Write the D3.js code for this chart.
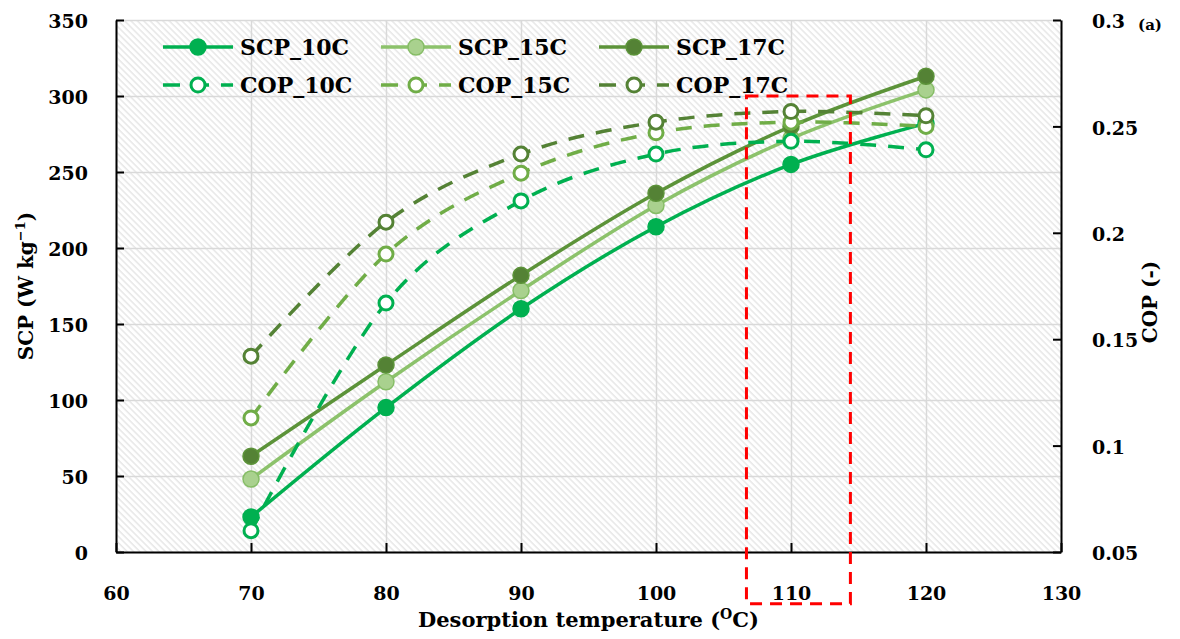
<!DOCTYPE html>
<html>
<head>
<meta charset="utf-8">
<script src="https://cdn.jsdelivr.net/npm/d3@7"></script>
<style>
    body { margin: 0; background: #fff; }
    text { font-family: "DejaVu Serif", serif; font-weight: bold; fill: #000; }
</style>
</head>
<body>
<div id="chart"></div>
<script>
// values
const temps = [70, 80, 90, 100, 110, 120];
const scp10 = [23, 95, 160, 214, 255, 282];
const scp15 = [48, 112, 172, 228, 272, 304];
const scp17 = [63, 123, 182, 236, 280, 313];
const cop10 = [0.060, 0.167, 0.215, 0.237, 0.243, 0.239];
const cop15 = [0.113, 0.190, 0.228, 0.247, 0.252, 0.250];
const cop17 = [0.142, 0.205, 0.237, 0.252, 0.257, 0.255];

const xTicks = [60, 70, 80, 90, 100, 110, 120, 130];
const scpTicks = [0, 50, 100, 150, 200, 250, 300, 350];
const copTicks = [0.05, 0.1, 0.15, 0.2, 0.25, 0.3];

// red dashed highlight box: [x0, x1] in degC, [top, bottom] in SCP units
const boxX = [106.7, 114.4];
const boxY = [300, -34];

class DesorptionChart {

    constructor(parentElement) {
        this.parentElement = parentElement;
        this.initVis();
    }

    initVis() {
        let vis = this;
        vis.margin = { top: 20, right: 119, bottom: 87, left: 116 };
        vis.width = 1180 - vis.margin.left - vis.margin.right;
        vis.height = 639 - vis.margin.top - vis.margin.bottom;

        vis.root = d3.select("#" + vis.parentElement)
            .append("svg")
            .attr("width", 1180)
            .attr("height", 639);

        // hatched plot background
        let defs = vis.root.append("defs");
        let pat = defs.append("pattern")
            .attr("id", "hatch")
            .attr("patternUnits", "userSpaceOnUse")
            .attr("width", 4.5)
            .attr("height", 4.5)
            .attr("patternTransform", "rotate(-45)");
        pat.append("rect").attr("width", 4.5).attr("height", 4.5).attr("fill", "#fff");
        pat.append("line")
            .attr("x1", 1).attr("y1", 0).attr("x2", 1).attr("y2", 4.5)
            .attr("stroke", "#dedede").attr("stroke-width", 1.1);

        vis.svg = vis.root.append("g")
            .attr("transform", "translate(" + vis.margin.left + "," + vis.margin.top + ")");

        vis.x = d3.scaleLinear().domain([60, 130]).range([0, vis.width]);
        vis.yL = d3.scaleLinear().domain([0, 350]).range([vis.height, 0]);
        vis.yR = d3.scaleLinear().domain([0.05, 0.3]).range([vis.height, 0]);

        vis.updateVis();
    }

    updateVis() {
        let vis = this;

        vis.svg.append("rect")
            .attr("width", vis.width)
            .attr("height", vis.height)
            .attr("fill", "url(#hatch)");

        // gridlines
        vis.svg.append("g")
            .attr("transform", "translate(0," + vis.height + ")")
            .call(d3.axisBottom(vis.x).tickValues(xTicks).tickSize(-vis.height).tickFormat(""))
            .call(g => g.select(".domain").remove())
            .call(g => g.selectAll("line").attr("stroke", "#d9d9d9").attr("stroke-width", 1.5));
        vis.svg.append("g")
            .call(d3.axisLeft(vis.yL).tickValues(scpTicks).tickSize(-vis.width).tickFormat(""))
            .call(g => g.select(".domain").remove())
            .call(g => g.selectAll("line").attr("stroke", "#d9d9d9").attr("stroke-width", 1.5));

        // axes with inward ticks
        let styleAxis = g => {
            g.select(".domain").attr("stroke", "#000").attr("stroke-width", 2);
            g.selectAll(".tick line").attr("stroke", "#000").attr("stroke-width", 2);
            g.selectAll("text").attr("font-size", 19).attr("font-family", "DejaVu Serif").attr("font-weight", "bold");
        };

        vis.svg.append("g")
            .attr("transform", "translate(0," + vis.height + ")")
            .call(d3.axisBottom(vis.x).tickValues(xTicks).tickSizeInner(-9).tickSizeOuter(0).tickPadding(35))
            .call(styleAxis);

        vis.svg.append("g")
            .call(d3.axisLeft(vis.yL).tickValues(scpTicks).tickSizeInner(-8).tickSizeOuter(0).tickPadding(28))
            .call(styleAxis)
            .call(g => g.selectAll("text").attr("dy", "0.4em"));

        vis.svg.append("g")
            .attr("transform", "translate(" + vis.width + ",0)")
            .call(d3.axisRight(vis.yR).tickValues(copTicks).tickFormat(d => String(+d.toFixed(2)))
                .tickSizeInner(-8).tickSizeOuter(0).tickPadding(31))
            .call(styleAxis)
            .call(g => g.selectAll("text").attr("dy", "0.4em"));

        // series
        let series = [
            { name: "SCP_10C", vals: scp10, axis: "L", line: "#00b050", fill: "#00b050", stroke: "#00b050", dash: null },
            { name: "SCP_15C", vals: scp15, axis: "L", line: "#8cc26b", fill: "#a9d18e", stroke: "#86bd66", dash: null },
            { name: "SCP_17C", vals: scp17, axis: "L", line: "#5c9339", fill: "#548235", stroke: "#5c9339", dash: null },
            { name: "COP_10C", vals: cop10, axis: "R", line: "#00b050", fill: "#fff", stroke: "#00b050", dash: "16,12" },
            { name: "COP_15C", vals: cop15, axis: "R", line: "#70ad47", fill: "#fff", stroke: "#70ad47", dash: "16,12" },
            { name: "COP_17C", vals: cop17, axis: "R", line: "#548235", fill: "#fff", stroke: "#548235", dash: "16,12" }
        ];

        series.forEach(s => {
            let y = s.axis === "L" ? vis.yL : vis.yR;
            let pts = temps.map((t, i) => [t, s.vals[i]]);
            let line = d3.line()
                .x(d => vis.x(d[0]))
                .y(d => y(d[1]))
                .curve(d3.curveCatmullRom.alpha(0));

            vis.svg.append("path")
                .datum(pts)
                .attr("fill", "none")
                .attr("stroke", s.line)
                .attr("stroke-width", 3.5)
                .attr("stroke-dasharray", s.dash)
                .attr("d", line);

            vis.svg.append("g")
                .selectAll("circle")
                .data(pts)
                .join("circle")
                .attr("cx", d => vis.x(d[0]))
                .attr("cy", d => y(d[1]))
                .attr("r", s.axis === "L" ? 8 : 7)
                .attr("fill", s.fill)
                .attr("stroke", s.stroke)
                .attr("stroke-width", s.axis === "L" ? 1.5 : 3);
        });

        // highlight box
        vis.svg.append("rect")
            .attr("x", vis.x(boxX[0]))
            .attr("y", vis.yL(boxY[0]))
            .attr("width", vis.x(boxX[1]) - vis.x(boxX[0]))
            .attr("height", vis.yL(boxY[1]) - vis.yL(boxY[0]))
            .attr("fill", "none")
            .attr("stroke", "#ff0000")
            .attr("stroke-width", 3)
            .attr("stroke-dasharray", "12,8");

        // legend (3 columns x 2 rows)
        let legend = vis.root.append("g");
        series.forEach((s, i) => {
            let col = i % 3, row = Math.floor(i / 3);
            let lx = 163 + col * 218, ly = 47 + row * 38;
            legend.append("line")
                .attr("x1", lx).attr("x2", lx + 70)
                .attr("y1", ly).attr("y2", ly)
                .attr("stroke", s.line)
                .attr("stroke-width", 3.5)
                .attr("stroke-dasharray", s.dash ? "17,12" : null);
            legend.append("circle")
                .attr("cx", lx + 35).attr("cy", ly)
                .attr("r", s.axis === "L" ? 8 : 7)
                .attr("fill", s.fill)
                .attr("stroke", s.stroke)
                .attr("stroke-width", s.axis === "L" ? 1.5 : 3);
            legend.append("text")
                .attr("x", lx + 77).attr("y", ly + 8)
                .attr("font-size", 22)
                .text(s.name);
        });

        // axis titles
        let xt = vis.root.append("text")
            .attr("x", vis.margin.left + vis.width / 2)
            .attr("y", 627)
            .attr("text-anchor", "middle")
            .attr("font-size", 21);
        xt.append("tspan").text("Desorption temperature (");
        xt.append("tspan").attr("dy", -8).attr("font-size", 14).text("O");
        xt.append("tspan").attr("dy", 8).text("C)");

        let yt = vis.root.append("text")
            .attr("transform", "translate(33," + (vis.margin.top + vis.height / 2) + ") rotate(-90)")
            .attr("text-anchor", "middle")
            .attr("font-size", 20);
        yt.append("tspan").text("SCP (W kg");
        yt.append("tspan").attr("dy", -8).attr("font-size", 13).text("\u22121");
        yt.append("tspan").attr("dy", 8).text(")");

        vis.root.append("text")
            .attr("transform", "translate(1157,302) rotate(-90)")
            .attr("text-anchor", "middle")
            .attr("font-size", 20)
            .text("COP (-)");

        vis.root.append("text")
            .attr("x", 1150).attr("y", 30)
            .attr("text-anchor", "middle")
            .attr("font-size", 15)
            .text("(a)");
    }
}

new DesorptionChart("chart");
</script>
</body>
</html>
